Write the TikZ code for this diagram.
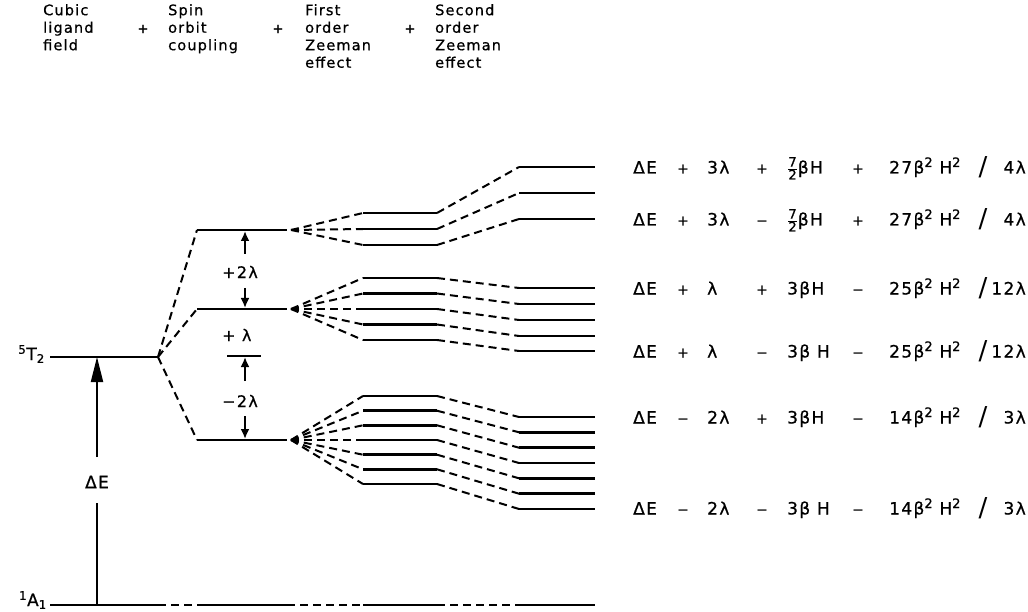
\documentclass[tikz,border=0pt]{standalone}
\usepackage{fontspec}
\setmainfont{DejaVu Sans}
\newfontfamily\hf[LetterSpace=8,FakeBold=0.7]{DejaVu Sans}
\usetikzlibrary{arrows.meta}
\newcommand\fr[2]{$\frac{\hbox{\hf\fontsize{13}{13}\selectfont #1}}{\hbox{\hf\fontsize{13}{13}\selectfont #2}}$}
\newcommand\sq{\raisebox{6.5pt}{\fontsize{13}{13}\selectfont 2}}
\newcommand\erow[9]{%
  \node[ex,anchor=base west] (#1a) at (633,#2+6.5) {ΔE};
  \node[op,anchor=base] (#1b) at (683,#2+6.5) {#3};
  \node[ex,anchor=base west] (#1c) at (707,#2+6.5) {#4};
  \node[op,anchor=base] (#1d) at (762,#2+6.5) {#5};
  \node[ex,anchor=base west] (#1e) at (787,#2+6.5) {#6};
  \node[op,anchor=base] (#1f) at (858,#2+6.5) {#7};
  \node[ex,anchor=base west] (#1g) at (889,#2+6.5) {#8};
  \node[sl] (#1s) at (983,#2) {/};
  \node[ex,anchor=base east] (#1h) at (1026,#2+6.5) {#9};
}
\begin{document}
\begin{tikzpicture}[x=1pt,y=-1pt,
  lev/.style={line width=2.5pt},
  con/.style={line width=2pt, dash pattern=on 8pt off 5pt},
  thin/.style={line width=2pt},
  hd/.style={font=\hf\fontsize{14.5}{17.5}\selectfont, inner sep=0pt, align=left, anchor=north west},
  pl/.style={font=\hf\fontsize{13}{13}\selectfont, inner sep=0pt},
  ex/.style={font=\hf\fontsize{17}{17}\selectfont, inner sep=0pt},
  sl/.style={font=\fontsize{26}{26}\selectfont, inner sep=0pt},
  op/.style={font=\hf\fontsize{14}{14}\selectfont, inner sep=0pt},
  lam/.style={font=\hf\fontsize{16}{16}\selectfont, inner sep=0pt, anchor=west},
  sarr/.style={thin, -{Latex[length=10pt,width=9pt]}}]
\useasboundingbox (0,0) rectangle (1028,612);

% header
\node[hd] (h1) at (43,4) {Cubic\\ligand\\field};
\node[pl] (p1) at (143,29) {+};
\node[hd] (h2) at (168,4) {Spin\\orbit\\coupling};
\node[pl] (p2) at (278,29) {+};
\node[hd] (h3) at (305,4) {First\\order\\Zeeman\\effect};
\node[pl] (p3) at (410,29) {+};
\node[hd] (h4) at (435,4) {Second\\order\\Zeeman\\effect};

% cubic field level
\coordinate (T2a) at (50,357); \coordinate (T2b) at (158,357); \coordinate (T2m) at (97,357);
\draw[lev] (T2a) -- (T2b);
\node[ex,anchor=east] (T2lab) at (45,354) {\textsuperscript{5}T\textsubscript{2}};

% ground level
\foreach \x [count=\i] in {50,158,197,287,363,437,519,595} {\coordinate (A\i) at (\x,605);}
\coordinate (Am) at (97,605);
\draw[lev] (A1) -- (A2); \draw[con] (A2) -- (A3); \draw[lev] (A3) -- (A4);
\draw[con] (A4) -- (A5); \draw[lev] (A5) -- (A6); \draw[con] (A6) -- (A7);
\draw[lev] (A7) -- (A8);
\node[ex,anchor=east] (A1lab) at (47,600) {\textsuperscript{1}A\textsubscript{1}};

% Delta E arrow
\node[ex] (dE) at (97,482) {ΔE};
\coordinate (dEt) at (97,457); \coordinate (dEb) at (97,503);
\draw[thin] (Am) -- (dEb);
\draw[thin, -{Triangle[length=25pt,width=12pt]}] (dEt) -- (T2m);

% spin-orbit levels
\coordinate (S1L) at (197,230); \coordinate (S1R) at (287,230); \coordinate (S1f) at (291,230);
\coordinate (S2L) at (197,309); \coordinate (S2R) at (287,309); \coordinate (S2f) at (291,309);
\coordinate (S3L) at (197,440); \coordinate (S3R) at (287,440); \coordinate (S3f) at (291,440);
\draw[lev] (S1L) -- (S1R); \draw[lev] (S2L) -- (S2R); \draw[lev] (S3L) -- (S3R);
\draw[con] (T2b) -- (S1L); \draw[con] (T2b) -- (S2L); \draw[con] (T2b) -- (S3L);

% spin-orbit spacing arrows
\coordinate (B1) at (227,356); \coordinate (B2) at (261,356);
\draw[lev] (B1) -- (B2);
\coordinate (u1s) at (245,254); \coordinate (u1t) at (245,231);
\coordinate (d1s) at (245,288); \coordinate (d1t) at (245,308);
\coordinate (u2s) at (245,381); \coordinate (u2t) at (245,357);
\coordinate (d2s) at (245,416); \coordinate (d2t) at (245,439);
\draw[sarr] (u1s) -- (u1t); \draw[sarr] (d1s) -- (d1t);
\draw[sarr] (u2s) -- (u2t); \draw[sarr] (d2s) -- (d2t);
\node[lam] (l1) at (222,272) {+2λ};
\node[lam] (l2) at (222,335) {+ λ};
\node[lam] (l3) at (222,401) {−2λ};

% Zeeman levels
\foreach \a/\b [count=\i] in {213/167, 229/193, 245/219} {
  \coordinate (Fa\i L) at (363,\a); \coordinate (Fa\i R) at (437,\a);
  \coordinate (Ga\i L) at (519,\b); \coordinate (Ga\i R) at (595,\b);
  \draw[lev] (Fa\i L) -- (Fa\i R); \draw[lev] (Ga\i L) -- (Ga\i R);
  \draw[con] (S1f) -- (Fa\i L); \draw[con] (Fa\i R) -- (Ga\i L);
}
\foreach \a/\b [count=\i] in {278/288, 293.5/304, 309/320, 324.5/336, 340/351} {
  \coordinate (Fb\i L) at (363,\a); \coordinate (Fb\i R) at (437,\a);
  \coordinate (Gb\i L) at (519,\b); \coordinate (Gb\i R) at (595,\b);
  \draw[lev] (Fb\i L) -- (Fb\i R); \draw[lev] (Gb\i L) -- (Gb\i R);
  \draw[con] (S2f) -- (Fb\i L); \draw[con] (Fb\i R) -- (Gb\i L);
}
\foreach \a/\b [count=\i] in {396/417, 410.7/432.3, 425.3/447.7, 440/463, 454.7/478.3, 469.3/493.7, 484/509} {
  \coordinate (Fc\i L) at (363,\a); \coordinate (Fc\i R) at (437,\a);
  \coordinate (Gc\i L) at (519,\b); \coordinate (Gc\i R) at (595,\b);
  \draw[lev] (Fc\i L) -- (Fc\i R); \draw[lev] (Gc\i L) -- (Gc\i R);
  \draw[con] (S3f) -- (Fc\i L); \draw[con] (Fc\i R) -- (Gc\i L);
}

% energy expressions
\erow{ea}{167}{+}{3λ}{+}{\fr{7}{2}βH}{+}{27β\sq{} H\sq}{4λ}
\erow{eb}{219}{+}{3λ}{−}{\fr{7}{2}βH}{+}{27β\sq{} H\sq}{4λ}
\erow{ec}{288}{+}{λ}{+}{3βH}{−}{25β\sq{} H\sq}{12λ}
\erow{ed}{351}{+}{λ}{−}{3β H}{−}{25β\sq{} H\sq}{12λ}
\erow{ee}{417}{−}{2λ}{+}{3βH}{−}{14β\sq{} H\sq}{3λ}
\erow{ef}{508}{−}{2λ}{−}{3β H}{−}{14β\sq{} H\sq}{3λ}
\end{tikzpicture}
\end{document}
